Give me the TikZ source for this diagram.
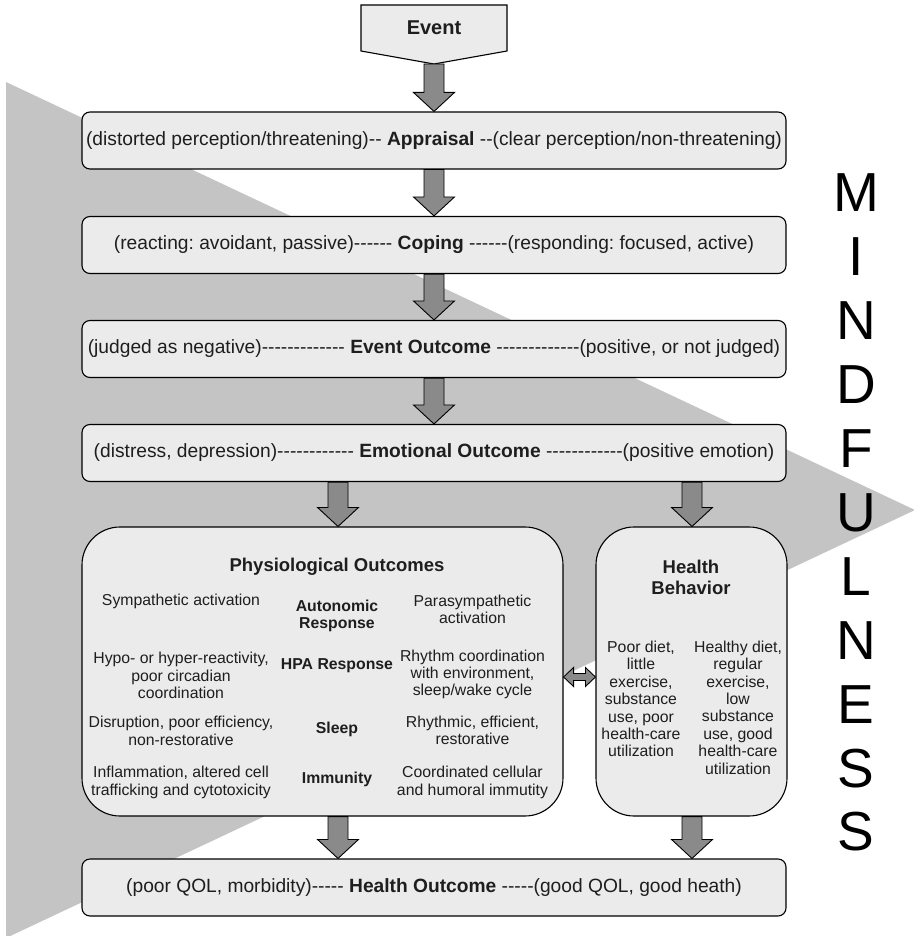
\documentclass[tikz,border=0pt]{standalone}
\usepackage{fontspec}
\setmainfont{Liberation Sans}
\usetikzlibrary{calc}
\definecolor{tri}{HTML}{C4C4C4}
\definecolor{boxfill}{HTML}{EBEBEB}
\definecolor{arrfill}{HTML}{8A8A8A}
\definecolor{txt}{HTML}{1E1E1E}
\frenchspacing
\newcommand\hy[1]{\foreach\i in {1,...,#1}{-\kern0pt}}
\newcommand\blockarrow[2]{\draw[blk] let \p1=(#1), \p2=(#2) in
  (\x1-10pt,\y1) -- (\x1-10pt,\y2+19pt) -- (\x1-20.5pt,\y2+19pt) -- (\x1,\y2)
  -- (\x1+20.5pt,\y2+19pt) -- (\x1+10pt,\y2+19pt) -- (\x1+10pt,\y1) -- cycle;}
\begin{document}
\begin{tikzpicture}[x=1pt,y=-1pt,
  stagebox/.style={draw=black, line width=1.1pt, fill=boxfill, rounded corners=8pt,
    minimum width=704pt, minimum height=57pt, inner sep=0pt,
    font=\fontsize{19.2}{22}\selectfont\frenchspacing, text=txt},
  bigbox/.style={draw=black, line width=1.1pt, fill=boxfill, rounded corners=38pt, inner sep=0pt},
  ttl/.style={font=\fontsize{18.5}{21}\selectfont\bfseries, text=txt, align=center},
  item/.style={font=\fontsize{15.8}{17.4}\selectfont, text=txt, align=center, inner sep=0pt},
  itemb/.style={font=\fontsize{15.8}{17.4}\selectfont\bfseries, text=txt, align=center, inner sep=0pt},
  blk/.style={draw=black, line width=0.9pt, fill=arrfill, line join=miter},
  mind/.style={font=\fontsize{55}{60}\selectfont, text=black, inner sep=0pt}
]
\useasboundingbox (0,0) rectangle (913,936);
% background triangle
\fill[tri] (6,82) -- (915,510) -- (6,938) -- cycle;

% event pentagon
\draw[fill=boxfill, line width=1.1pt] (361,5) -- (507,5) -- (507,51) -- (434,64) -- (361,51) -- cycle;
\node[ttl, font=\fontsize{20}{22}\selectfont\bfseries] (event) at (434,28) {Event};
\coordinate (eventtip) at (434,64);

% stage boxes
\node[stagebox] (appr) at (434,140.5) {(distorted perception/threatening)\hy{2} \textbf{Appraisal} \hy{2}(clear perception/non-threatening)};
\node[stagebox] (coping) at (434,245) {(reacting: avoidant, passive)\hy{6} \textbf{Coping} \hy{6}(responding: focused, active)};
\node[stagebox] (evout) at (434,349) {(judged as negative)\hy{13} \textbf{Event Outcome} \hy{13}(positive, or not judged)};
\node[stagebox] (emo) at (434,453) {(distress, depression)\hy{12} \textbf{Emotional Outcome} \hy{12}(positive emotion)};
\node[stagebox] (hout) at (434,887.5) {(poor QOL, morbidity)\hy{5} \textbf{Health Outcome} \hy{5}(good QOL, good heath)};

% big boxes
\node[bigbox, minimum width=481pt, minimum height=289pt] (phys) at (322.5,671.5) {};
\node[bigbox, minimum width=191pt, minimum height=289pt] (hb) at (691.5,671.5) {};

% physiological contents
\node[ttl] (physT) at (337,567) {Physiological Outcomes};
\node[item] (s1) at (181,601) {Sympathetic activation};
\node[itemb] (m1) at (337,616) {Autonomic\\Response};
\node[item] (p1) at (472.5,609.5) {Parasympathetic\\activation};
\node[item] (s2) at (181,675.5) {Hypo- or hyper-reactivity,\\poor circadian\\coordination};
\node[itemb] (m2) at (337,666) {HPA Response};
\node[item] (p2) at (472.5,674.5) {Rhythm coordination\\with environment,\\sleep/wake cycle};
\node[item] (s3) at (181,731) {Disruption, poor efficiency,\\non-restorative};
\node[itemb] (m3) at (337,729) {Sleep};
\node[item] (p3) at (472.5,730.5) {Rhythmic, efficient,\\restorative};
\node[item] (s4) at (181,782.5) {Inflammation, altered cell\\trafficking and cytotoxicity};
\node[itemb] (m4) at (337,779) {Immunity};
\node[item] (p4) at (472.5,782.5) {Coordinated cellular\\and humoral immutity};

% health behavior contents
\node[ttl] (hbT) at (691,577.5) {Health\\Behavior};
\node[item] (hbL) at (641,699) {Poor diet,\\little\\exercise,\\substance\\use, poor\\health-care\\utilization};
\node[item] (hbR) at (738,707.5) {Healthy diet,\\regular\\exercise,\\low\\substance\\use, good\\health-care\\utilization};

% arrows
\coordinate (L) at (338,0);
\coordinate (R) at (692,0);
\blockarrow{eventtip}{appr.north}
\blockarrow{appr.south}{coping.north}
\blockarrow{coping.south}{evout.north}
\blockarrow{evout.south}{emo.north}
\blockarrow{emo.south -| L}{phys.north -| L}
\blockarrow{emo.south -| R}{hb.north -| R}
\blockarrow{phys.south -| L}{hout.north -| L}
\blockarrow{hb.south -| R}{hout.north -| R}

% double arrow
\coordinate (da) at (0,677);
\draw[blk] let \p1=(phys.east |- da), \p2=(hb.west |- da) in
  (\x1,\y1) -- (\x1+10pt,\y1+9.5pt) -- (\x1+10pt,\y1+3.5pt) -- (\x2-10pt,\y1+3.5pt)
  -- (\x2-10pt,\y1+9.5pt) -- (\x2,\y1) -- (\x2-10pt,\y1-9.5pt) -- (\x2-10pt,\y1-3.5pt)
  -- (\x1+10pt,\y1-3.5pt) -- (\x1+10pt,\y1-9.5pt) -- cycle;

% MINDFULNESS
\foreach \c [count=\k from 0] in {M,I,N,D,F,U,L,N,E,S,S} {
  \node[mind] (mf\k) at (856,193+63.9*\k) {\c};
}
\end{tikzpicture}
\end{document}
